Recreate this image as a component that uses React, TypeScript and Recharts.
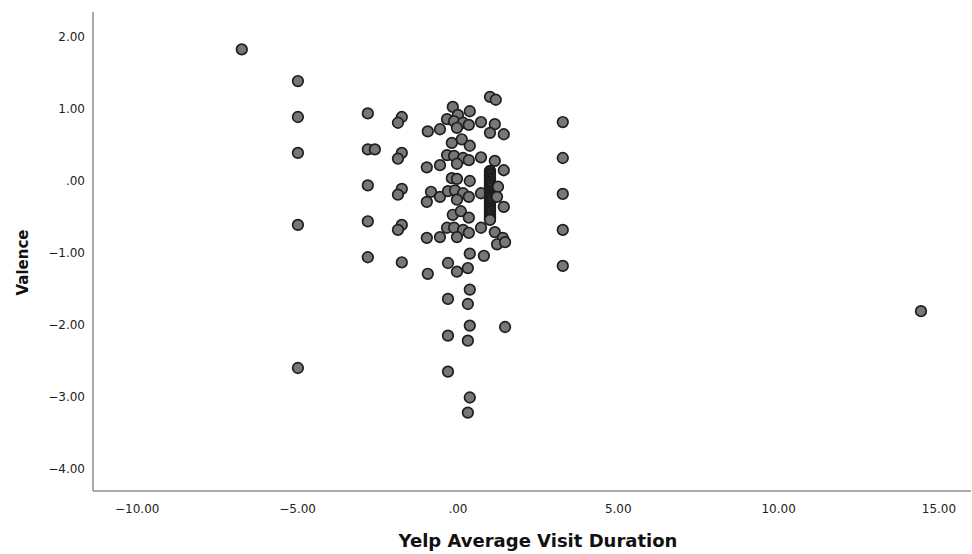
import { ScatterChart, Scatter, XAxis, YAxis, Label } from "recharts";

const FONT = "'DejaVu Sans', Verdana, sans-serif";
const DOT_FILL = "#777777";
const DOT_STROKE = "#1e1e1e";
const AXIS_COLOR = "#8c8c8c";

const xTicks = [-10, -5, 0, 5, 10, 15];
const yTicks = [2, 1, 0, -1, -2, -3, -4];

// visit duration / valence pairs
const leftPoints = [
  { x: -6.74, y: 1.83 },
  { x: -4.99, y: 1.39 },
  { x: -4.99, y: 0.89 },
  { x: -4.99, y: 0.39 },
  { x: -4.99, y: -0.61 },
  { x: -4.99, y: -2.6 },
  { x: -2.81, y: 0.94 },
  { x: -2.81, y: 0.44 },
  { x: -2.59, y: 0.44 },
  { x: -2.81, y: -0.06 },
  { x: -2.81, y: -0.56 },
  { x: -2.81, y: -1.06 },
  { x: -1.75, y: 0.89 },
  { x: -1.87, y: 0.81 },
  { x: -1.75, y: 0.39 },
  { x: -1.87, y: 0.31 },
  { x: -1.75, y: -0.11 },
  { x: -1.87, y: -0.19 },
  { x: -1.75, y: -0.61 },
  { x: -1.87, y: -0.68 },
  { x: -1.75, y: -1.13 },
];

const centerPoints = [
  { x: 1.0, y: 1.17 },
  { x: 1.18, y: 1.13 },
  { x: -0.16, y: 1.03 },
  { x: 0.37, y: 0.97 },
  { x: 0.0, y: 0.92 },
  { x: -0.34, y: 0.86 },
  { x: -0.12, y: 0.83 },
  { x: 0.16, y: 0.81 },
  { x: 0.34, y: 0.78 },
  { x: 0.72, y: 0.82 },
  { x: 1.15, y: 0.79 },
  { x: -0.94, y: 0.69 },
  { x: -0.56, y: 0.72 },
  { x: -0.03, y: 0.74 },
  { x: 1.0, y: 0.67 },
  { x: 1.43, y: 0.65 },
  { x: -0.19, y: 0.53 },
  { x: 0.12, y: 0.58 },
  { x: 0.37, y: 0.49 },
  { x: -0.34, y: 0.36 },
  { x: -0.12, y: 0.35 },
  { x: 0.16, y: 0.32 },
  { x: 0.34, y: 0.29 },
  { x: 0.72, y: 0.33 },
  { x: 1.15, y: 0.28 },
  { x: -0.97, y: 0.19 },
  { x: -0.56, y: 0.22 },
  { x: -0.03, y: 0.24 },
  { x: -0.19, y: 0.04 },
  { x: -0.03, y: 0.03 },
  { x: 0.37, y: 0.0 },
  { x: 1.43, y: 0.15 },
  { x: -0.84, y: -0.15 },
  { x: -0.56, y: -0.22 },
  { x: -0.97, y: -0.29 },
  { x: -0.31, y: -0.14 },
  { x: -0.09, y: -0.13 },
  { x: 0.16, y: -0.17 },
  { x: 0.34, y: -0.22 },
  { x: -0.03, y: -0.26 },
  { x: 0.72, y: -0.17 },
  { x: -0.16, y: -0.47 },
  { x: 0.09, y: -0.42 },
  { x: 0.34, y: -0.51 },
  { x: -0.34, y: -0.65 },
  { x: -0.12, y: -0.65 },
  { x: 0.16, y: -0.68 },
  { x: 0.34, y: -0.72 },
  { x: -0.03, y: -0.78 },
  { x: -0.97, y: -0.79 },
  { x: -0.56, y: -0.78 },
  { x: 0.72, y: -0.65 },
  { x: 0.37, y: -1.01 },
  { x: 0.81, y: -1.04 },
  { x: -0.31, y: -1.14 },
  { x: -0.03, y: -1.26 },
  { x: 0.31, y: -1.21 },
  { x: -0.94, y: -1.29 },
  { x: 0.37, y: -1.51 },
  { x: -0.31, y: -1.64 },
  { x: 0.31, y: -1.71 },
  { x: 0.37, y: -2.01 },
  { x: -0.31, y: -2.15 },
  { x: 0.31, y: -2.22 },
  { x: 1.47, y: -2.03 },
  { x: -0.31, y: -2.65 },
  { x: 0.37, y: -3.01 },
  { x: 0.31, y: -3.22 },
];

// the dense stack at x = 1.0 that shows as a black bar
const stackY = [
  0.14, 0.13, 0.11, 0.1, 0.08, 0.07, 0.05, 0.04, 0.02, 0.01, -0.01, -0.02,
  -0.04, -0.05, -0.07, -0.08, -0.1, -0.11, -0.13, -0.14, -0.16, -0.17, -0.19,
  -0.2, -0.22, -0.23, -0.25, -0.26, -0.28, -0.29, -0.31, -0.32, -0.34, -0.35,
  -0.37, -0.38, -0.4, -0.41, -0.43, -0.44, -0.46, -0.47, -0.49, -0.5, -0.52,
  -0.53, -0.54,
];

const rightPoints = [
  { x: 1.25, y: -0.08 },
  { x: 1.22, y: -0.22 },
  { x: 1.43, y: -0.36 },
  { x: 1.15, y: -0.71 },
  { x: 1.4, y: -0.79 },
  { x: 1.22, y: -0.88 },
  { x: 1.47, y: -0.85 },
  { x: 3.27, y: 0.82 },
  { x: 3.27, y: 0.32 },
  { x: 3.27, y: -0.18 },
  { x: 3.27, y: -0.68 },
  { x: 3.27, y: -1.18 },
  { x: 14.44, y: -1.81 },
];

const points = [
  ...leftPoints,
  ...centerPoints,
  ...stackY.map((y) => ({ x: 1.0, y })),
  ...rightPoints,
];

const fmt = (v: number) => {
  if (v === 0) return ".00";
  return v < 0 ? "\u2212" + Math.abs(v).toFixed(2) : v.toFixed(2);
};

const Dot = (props: any) => {
  const { cx, cy } = props;
  if (cx == null || cy == null) return null;
  return <circle cx={cx} cy={cy} r={5.3} fill={DOT_FILL} stroke={DOT_STROKE} strokeWidth={1.7} />;
};

const XTitle = (props: any) => {
  const { x, y, width, height } = props.viewBox;
  return (
    <text x={x + width / 2 + 6} y={y + height - 7} textAnchor="middle" fontFamily={FONT} fontWeight="bold" fontSize={18} fill="#111">
      Yelp Average Visit Duration
    </text>
  );
};

const YTitle = (props: any) => {
  const { x, y, height } = props.viewBox;
  const cx = x + 28;
  const cy = y + height / 2 + 11;
  return (
    <text x={cx} y={cy} transform={`rotate(-90, ${cx}, ${cy})`} textAnchor="middle" fontFamily={FONT} fontWeight="bold" fontSize={15} fill="#111">
      Valence
    </text>
  );
};

export default function App() {
  const tick = { fontFamily: FONT, fontSize: 12, fill: "#222" };
  return (
    <div style={{ position: "absolute", left: 0, top: 0, background: "#fff" }}>
      <ScatterChart width={972} height={554} margin={{ top: 12, right: 1, bottom: 0, left: 0 }}>
        <XAxis
          type="number"
          dataKey="x"
          domain={[-11.38, 16.0]}
          allowDataOverflow
          ticks={xTicks}
          tickFormatter={fmt}
          tickLine={false}
          tickMargin={7}
          height={63}
          tick={tick}
          axisLine={{ stroke: AXIS_COLOR, strokeWidth: 1.5 }}
        >
          <Label content={XTitle} />
        </XAxis>
        <YAxis
          type="number"
          dataKey="y"
          domain={[-4.31, 2.35]}
          allowDataOverflow
          ticks={yTicks}
          tickFormatter={fmt}
          tickLine={false}
          width={93}
          tick={tick}
          axisLine={{ stroke: AXIS_COLOR, strokeWidth: 1.5 }}
        >
          <Label content={YTitle} />
        </YAxis>
        <Scatter data={points} shape={Dot} isAnimationActive={false} />
      </ScatterChart>
    </div>
  );
}
